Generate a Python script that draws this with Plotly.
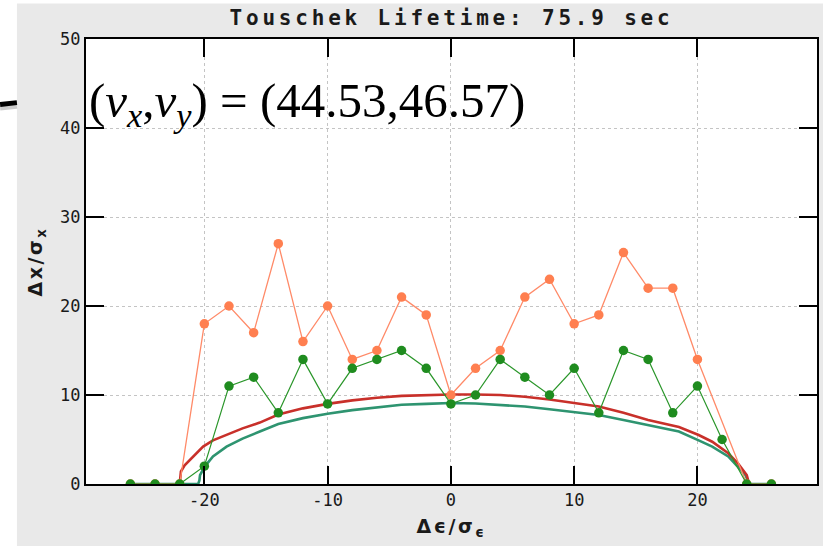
import plotly.graph_objects as go

# Tracked particles: momentum offset (in sigma_eps) vs. surviving amplitude (in sigma_x)
eps_green = [-26, -24, -22, -20, -18, -16, -14, -12, -10, -8, -6, -4, -2, 0,
             2, 4, 6, 8, 10, 12, 14, 16, 18, 20, 22, 24, 26]
amp_green = [0, 0, 0, 2, 11, 12, 8, 14, 9, 13, 14, 15, 13, 9,
             10, 14, 12, 10, 13, 8, 15, 14, 8, 11, 5, 0, 0]

eps_orange = [-26, -24, -22, -20, -18, -16, -14, -12, -10, -8, -6, -4, -2, 0,
              2, 4, 6, 8, 10, 12, 14, 16, 18, 20, 24, 26]
amp_orange = [0, 0, 0, 18, 20, 17, 27, 16, 20, 14, 15, 21, 19, 10,
              13, 15, 21, 23, 18, 19, 26, 22, 22, 14, 0, 0]

# Smooth acceptance envelopes
eps_red = [-22.0, -21.9, -21.6, -20.9, -20.1, -19.3, -18.2, -16.9, -15.5, -14.0,
           -12.0, -10.0, -8.0, -6.0, -4.0, -2.0, 0.0, 2.0, 4.0, 6.0, 8.0, 10.0,
           12.0, 14.0, 16.0, 18.5, 20.1, 21.2, 22.5, 23.3, 24.0, 24.2]
amp_red = [0.0, 1.4, 2.1, 3.1, 4.2, 4.9, 5.5, 6.25, 6.9, 7.8,
           8.5, 9.0, 9.4, 9.7, 9.9, 10.0, 10.05, 10.05, 10.0, 9.8, 9.5, 9.1,
           8.7, 8.0, 7.2, 6.4, 5.5, 4.75, 3.45, 2.3, 1.0, 0.0]

eps_teal = [-26.0, -20.5, -20.4, -20.35, -20.0, -19.3, -18.2, -16.9, -15.5, -14.0,
            -12.0, -10.0, -8.0, -6.0, -4.0, -2.0, 0.0, 2.0, 4.0, 6.0, 8.0, 10.0,
            12.0, 14.0, 16.0, 18.5, 20.1, 21.2, 22.5, 23.3, 23.9, 24.2, 26.0]
amp_teal = [0.0, 0.0, 0.4, 1.0, 1.9, 3.1, 4.2, 5.1, 5.9, 6.75,
            7.4, 7.9, 8.3, 8.6, 8.9, 9.0, 9.1, 9.05, 8.9, 8.7, 8.4, 8.1,
            7.75, 7.2, 6.6, 5.9, 4.9, 4.2, 3.1, 1.9, 1.0, 0.0, 0.0]

x_range = [-29.6, 29.7]
y_range = [0, 50]
x_tickvals = [-20, -10, 0, 10, 20]
x_ticktext = ["-20", "-10", "0", "10", "20"]
y_tickvals = [0, 10, 20, 30, 40, 50]
y_ticktext = ["0", "10", "20", "30", "40", "50"]

fig = go.Figure()

fig.add_trace(go.Scatter(x=eps_teal, y=amp_teal, mode="lines",
                         line=dict(color="#2e9470", width=2.6), hoverinfo="skip"))
fig.add_trace(go.Scatter(x=eps_red, y=amp_red, mode="lines",
                         line=dict(color="#c8302a", width=2.6), hoverinfo="skip"))
fig.add_trace(go.Scatter(x=eps_orange, y=amp_orange, mode="lines+markers",
                         line=dict(color="#ff8a68", width=1.3),
                         marker=dict(color="#ff7f50", size=9.5)))
fig.add_trace(go.Scatter(x=eps_green, y=amp_green, mode="lines+markers",
                         line=dict(color="#2a962a", width=1.2),
                         marker=dict(color="#1f8c1f", size=9.5)))

mono = "DejaVu Sans Mono"
label_axis = dict(
    showline=True, linecolor="black", linewidth=2, mirror="allticks",
    ticks="inside", ticklen=18, tickwidth=2, tickcolor="black",
    showgrid=True, gridcolor="#c4c4c4", griddash="dot", gridwidth=1,
    zeroline=False,
    tickfont=dict(family=mono, size=17, color="#1a1a1a"),
)
# Extra overlaid axes that only draw tick marks (long every 10, short every 2)
tick_axis = dict(
    showline=True, linecolor="black", linewidth=2, mirror="allticks",
    ticks="inside", tickwidth=2, tickcolor="black",
    showgrid=False, zeroline=False, showticklabels=False,
)

title_font = dict(family="DejaVu Sans", size=19, color="#1a1a1a", weight="bold")

fig.update_layout(
    xaxis=dict(range=x_range, tickmode="array",
               tickvals=x_tickvals, ticktext=x_ticktext,
               title=dict(text='<span style="letter-spacing:2.5px">Δϵ/σ<sub>ϵ</sub></span>',
                          font=title_font, standoff=10),
               **label_axis),
    yaxis=dict(range=y_range, tickmode="array",
               tickvals=y_tickvals, ticktext=y_ticktext,
               title=dict(text='<span style="letter-spacing:2.5px">Δx/σ<sub>x</sub></span>',
                          font=title_font, standoff=12),
               **label_axis),
    xaxis2=dict(range=x_range, overlaying="x", anchor="y", side="bottom",
                tickmode="linear", tick0=0, dtick=2, ticklen=6, **tick_axis),
    yaxis2=dict(range=y_range, overlaying="y", anchor="x", side="left",
                tickmode="linear", tick0=0, dtick=2, ticklen=6, **tick_axis),
    xaxis3=dict(range=x_range, overlaying="x", anchor="y", side="bottom",
                tickmode="array", tickvals=x_tickvals, ticklen=18, **tick_axis),
    yaxis3=dict(range=y_range, overlaying="y", anchor="x", side="left",
                tickmode="array", tickvals=y_tickvals, ticklen=18, **tick_axis),
)

# Paper edges: white strips and the dark stroke at the left border
shapes = [
    dict(type="rect", xref="paper", yref="paper", x0=-0.14, x1=-0.0945,
         y0=-0.2, y1=1.2, fillcolor="white", line=dict(width=0), layer="below"),
    dict(type="rect", xref="paper", yref="paper", x0=-0.14, x1=1.1,
         y0=1.0795, y1=1.2, fillcolor="white", line=dict(width=0), layer="below"),
    dict(type="line", xref="paper", yref="paper",
         x0=-0.1175, y0=0.845, x1=-0.0945, y1=0.849,
         line=dict(color="rgba(0,0,0,0.2)", width=5)),
    dict(type="line", xref="paper", yref="paper",
         x0=-0.1175, y0=0.853, x1=-0.0945, y1=0.857,
         line=dict(color="black", width=5)),
]

fig.update_layout(
    width=823, height=546,
    margin=dict(l=86, r=4, t=39, b=62),
    paper_bgcolor="#e9e9e9", plot_bgcolor="white",
    showlegend=False,
    shapes=shapes,
    title=dict(text='<span style="letter-spacing:3.8px">Touschek Lifetime: 75.9 sec</span>',
               xref="paper", x=0.5, xanchor="center", y=0.967, yanchor="middle",
               font=dict(family=mono, size=21, color="#1a1a1a", weight="bold")),
    annotations=[dict(
        text="(<i>ν</i><sub><i>x</i></sub>,<i>ν</i><sub><i>y</i></sub>) = (44.53,46.57)",
        xref="paper", yref="y", x=0.002, y=42.7, xanchor="left", yanchor="middle",
        showarrow=False,
        font=dict(family="Liberation Serif", size=49, color="black"))],
)

fig.write_html("out.html")
